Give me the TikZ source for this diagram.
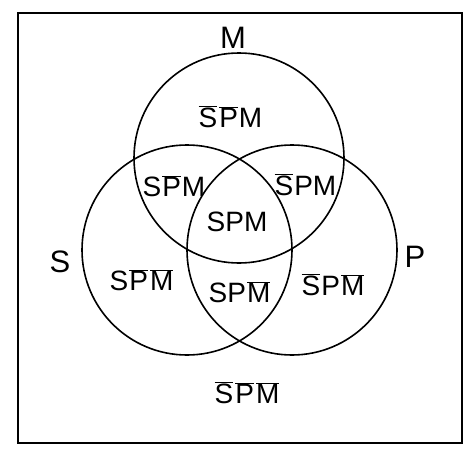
\documentclass[tikz,border=0pt]{standalone}
\usepackage{fontspec}
\setmainfont{Liberation Sans}
\usetikzlibrary{positioning}
\newcommand{\cmpl}[1]{\kern1pt$\overline{\mbox{#1}}$\kern1pt}

\begin{document}
\begin{tikzpicture}[x=1pt, y=-1pt,
    setcirc/.style={draw, circle, minimum size=210pt, inner sep=0pt, line width=1.6pt},
    region/.style={font=\fontsize{28}{28}\selectfont},
    setname/.style={font=\fontsize{31}{31}\selectfont}]
    \useasboundingbox (0,0) rectangle (475,450);

    % Rahmen
    \draw[line width=2.4pt] (18,13) rectangle (462,443);

    % Kreise
    \node[setcirc] (cM) at (239,158) {};
    \node[setcirc] (cS) at (187,250) {};
    \node[setcirc] (cP) at (292,250) {};

    % Namen
    \node[setname] (nM) at (233,38) {M};
    \node[setname] (nS) at (60,262) {S};
    \node[setname] (nP) at (415,257) {P};

    % Felder
    \node[region] (mOnly) at (230,117) {\cmpl{S}\cmpl{P}M};
    \node[region] (smNotP) at (174,186) {S\cmpl{P}M};
    \node[region] (pmNotS) at (305,185) {\cmpl{S}PM};
    \node[region] (spm) at (237,222) {SPM};
    \node[region] (sOnly) at (142,280) {S\cmpl{P}\cmpl{M}};
    \node[region] (spNotM) at (240,292) {SP\cmpl{M}};
    \node[region] (pOnly) at (333,285) {\cmpl{S}P\cmpl{M}};
    \node[region] (none) at (247,393) {\cmpl{S}\cmpl{P}\cmpl{M}};
\end{tikzpicture}
\end{document}
